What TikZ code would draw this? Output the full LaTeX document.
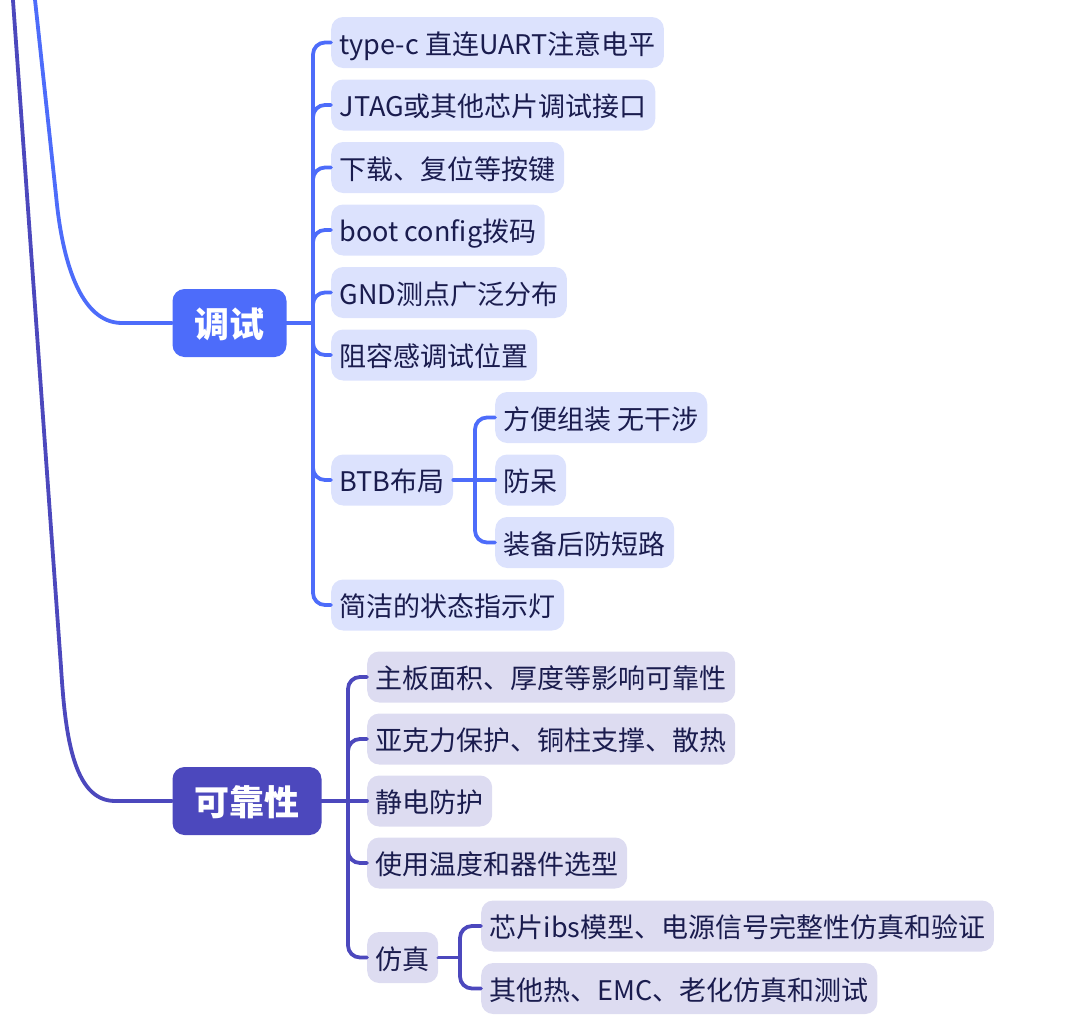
\documentclass[tikz,border=0pt]{standalone}
\usepackage{fontspec}
\setmainfont{Noto Sans CJK SC}
\definecolor{Azure}{HTML}{4D6CFA}
\definecolor{Indigo}{HTML}{4C48BD}
\definecolor{AzureLight}{HTML}{DCE2FD}
\definecolor{IndigoLight}{HTML}{DDDCF1}
\definecolor{Ink}{HTML}{1A1C4E}

\begin{document}
\begin{tikzpicture}[x=1pt,y=-1pt,
    topic/.style={rounded corners=12pt, text=white, font=\fontsize{35}{40}\selectfont\bfseries, inner xsep=22pt, text height=31pt, text depth=3pt, minimum height=68pt},
    leaf/.style={rounded corners=12pt, text=Ink, font=\fontsize{27}{32}\selectfont, inner xsep=8.5pt, text height=24.5pt, text depth=1.5pt, minimum height=51pt, anchor=west},
    wire/.style={line width=3.8pt, line cap=round}]
  \useasboundingbox (0,0) rectangle (1080,1036);

  \node[topic, fill=Azure] (debug) at (229.5,323) {调试};
  \node[topic, fill=Indigo] (rel) at (247,801) {可靠性};

  \node[leaf, fill=AzureLight] (d1) at (331,42.5) {type-c 直连UART注意电平};
  \node[leaf, fill=AzureLight] (d2) at (331,105) {JTAG或其他芯片调试接口};
  \node[leaf, fill=AzureLight] (d3) at (331,167.5) {下载、复位等按键};
  \node[leaf, fill=AzureLight] (d4) at (331,230) {boot config拨码};
  \node[leaf, fill=AzureLight] (d5) at (331,292.5) {GND测点广泛分布};
  \node[leaf, fill=AzureLight] (d6) at (331,355) {阻容感调试位置};
  \node[leaf, fill=AzureLight] (d7) at (331,480) {BTB布局};
  \node[leaf, fill=AzureLight] (d8) at (331,605) {简洁的状态指示灯};

  \node[leaf, fill=AzureLight] (b1) at (495,417.5) {方便组装 无干涉};
  \node[leaf, fill=AzureLight] (b2) at (495,480) {防呆};
  \node[leaf, fill=AzureLight] (b3) at (495,542.5) {装备后防短路};

  \node[leaf, fill=IndigoLight] (r1) at (367,677) {主板面积、厚度等影响可靠性};
  \node[leaf, fill=IndigoLight] (r2) at (367,739) {亚克力保护、铜柱支撑、散热};
  \node[leaf, fill=IndigoLight] (r3) at (367,801) {静电防护};
  \node[leaf, fill=IndigoLight] (r4) at (367,863) {使用温度和器件选型};
  \node[leaf, fill=IndigoLight] (r5) at (367,957.5) {仿真};

  \node[leaf, fill=IndigoLight] (s1) at (481,926) {芯片ibs模型、电源信号完整性仿真和验证};
  \node[leaf, fill=IndigoLight] (s2) at (481,988.5) {其他热、EMC、老化仿真和测试};

  \coordinate (topB) at (31.8,-30);
  \coordinate (topA) at (10.8,-30);
  \coordinate (dspine) at (313,323);
  \coordinate (bspine) at (475,480);
  \coordinate (rspine) at (348,801);
  \coordinate (sspine) at (460,957.5);

  \draw[wire, Azure] (topB) -- (56,195) .. controls (62,260) and (80,323) .. (122,323) -- (debug.west);
  \draw[wire, Indigo] (topA) -- (61,667) .. controls (65,730) and (72,801) .. (115,801) -- (rel.west);

  \draw[wire, Azure] (debug.east) -- (dspine);
  \foreach \i in {1,...,8}
    \draw[wire, Azure, rounded corners=12pt] (dspine) |- (d\i.west);
  \draw[wire, Azure] (d7.east) -- (b2.west);
  \foreach \i in {1,3}
    \draw[wire, Azure, rounded corners=12pt] (bspine) |- (b\i.west);

  \draw[wire, Indigo] (rel.east) -- (r3.west);
  \foreach \i in {1,2,4,5}
    \draw[wire, Indigo, rounded corners=12pt] (rspine) |- (r\i.west);
  \draw[wire, Indigo] (r5.east) -- (sspine);
  \foreach \i in {1,2}
    \draw[wire, Indigo, rounded corners=12pt] (sspine) |- (s\i.west);
\end{tikzpicture}
\end{document}
